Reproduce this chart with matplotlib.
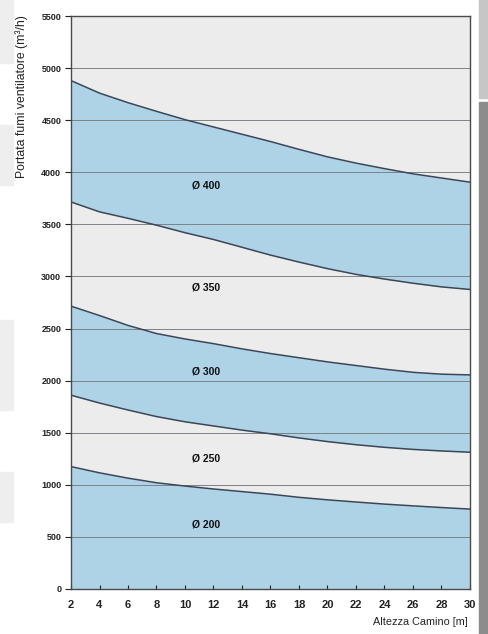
import matplotlib.pyplot as plt
from matplotlib.patches import Rectangle

# altezza camino [m]
heights = [2, 4, 6, 8, 10, 12, 14, 16, 18, 20, 22, 24, 26, 28, 30]

# limiti superiori delle fasce (m3/h)
lim_200 = [1175, 1115, 1064, 1020, 988, 960, 935, 910, 880, 856, 835, 815, 798, 782, 767]
lim_250 = [1860, 1785, 1718, 1655, 1605, 1565, 1525, 1490, 1450, 1415, 1385, 1360, 1340, 1325, 1313]
lim_300 = [2715, 2625, 2530, 2452, 2400, 2355, 2305, 2260, 2220, 2180, 2145, 2110, 2080, 2062, 2055]
lim_350 = [3715, 3620, 3558, 3492, 3420, 3355, 3280, 3205, 3138, 3075, 3020, 2975, 2935, 2900, 2875]
lim_400 = [4880, 4760, 4668, 4585, 4505, 4435, 4365, 4295, 4220, 4148, 4088, 4035, 3985, 3945, 3905]

labels = ["Ø 200", "Ø 250", "Ø 300", "Ø 350", "Ø 400"]
label_y = [617, 1249, 2085, 2895, 3876]

blue = "#aed3e6"
grey_bg = "#ececec"
line_col = "#3b4756"

fig = plt.figure(figsize=(4.89, 6.34), dpi=100)
plt.rcParams['font.family'] = ['Liberation Sans', 'DejaVu Sans']

# bordi grigi dello screenshot
fig.patches.append(Rectangle((0, 1 - 63/634), 13/489, 63/634, transform=fig.transFigure, color="#eeeeee", zorder=0))
fig.patches.append(Rectangle((0, 1 - 185/634), 13/489, 60/634, transform=fig.transFigure, color="#eeeeee", zorder=0))
fig.patches.append(Rectangle((0, 1 - 410/634), 13/489, 90/634, transform=fig.transFigure, color="#eeeeee", zorder=0))
fig.patches.append(Rectangle((0, 1 - 522/634), 13/489, 50/634, transform=fig.transFigure, color="#eeeeee", zorder=0))
fig.patches.append(Rectangle((479/489, 1 - 98/634), 10/489, 98/634, transform=fig.transFigure, color="#c6c6c6", zorder=0))
fig.patches.append(Rectangle((479/489, 0), 10/489, 532/634, transform=fig.transFigure, color="#8c8c8c", zorder=0))

ax = fig.add_axes([71/489, 45/634, 399/489, 573/634])
ax.set_facecolor(grey_bg)

ax.fill_between(heights, 0, lim_200, color=blue, lw=0)
ax.fill_between(heights, lim_250, lim_300, color=blue, lw=0)
ax.fill_between(heights, lim_350, lim_400, color=blue, lw=0)

for y in range(500, 5500, 500):
    ax.axhline(y, color="#7d8288", lw=0.7, zorder=2)

for curve in [lim_200, lim_250, lim_300, lim_350, lim_400]:
    ax.plot(heights, curve, color=line_col, lw=1.1, zorder=3)

for lab, y in zip(labels, label_y):
    ax.text(11.45, y, lab, ha="center", va="center", fontsize=7.5, fontweight="bold", color="#111111", zorder=4)

ax.set_xlim(2, 30)
ax.set_ylim(0, 5500)
ax.set_xticks(range(2, 31, 2))
ax.set_yticks(range(0, 5501, 500))
ax.tick_params(axis="x", direction="in", length=3, labelsize=8, pad=8, colors="#222222")
ax.tick_params(axis="y", direction="out", length=4, labelsize=6.5, pad=3, colors="#222222")
for t in ax.get_xticklabels() + ax.get_yticklabels():
    t.set_fontweight("bold")
for s in ax.spines.values():
    s.set_color("#4a4a4a")
    s.set_linewidth(1.0)

fig.text(22/489, 1 - 15/634, "Portata fumi ventilatore (m³/h)", rotation=90, ha="center", va="top", fontsize=8.8, color="#222222")
fig.text(468/489, 1 - 622/634, "Altezza Camino [m]", ha="right", va="center", fontsize=7.8, color="#222222")

fig.savefig("out.png", dpi=100)
